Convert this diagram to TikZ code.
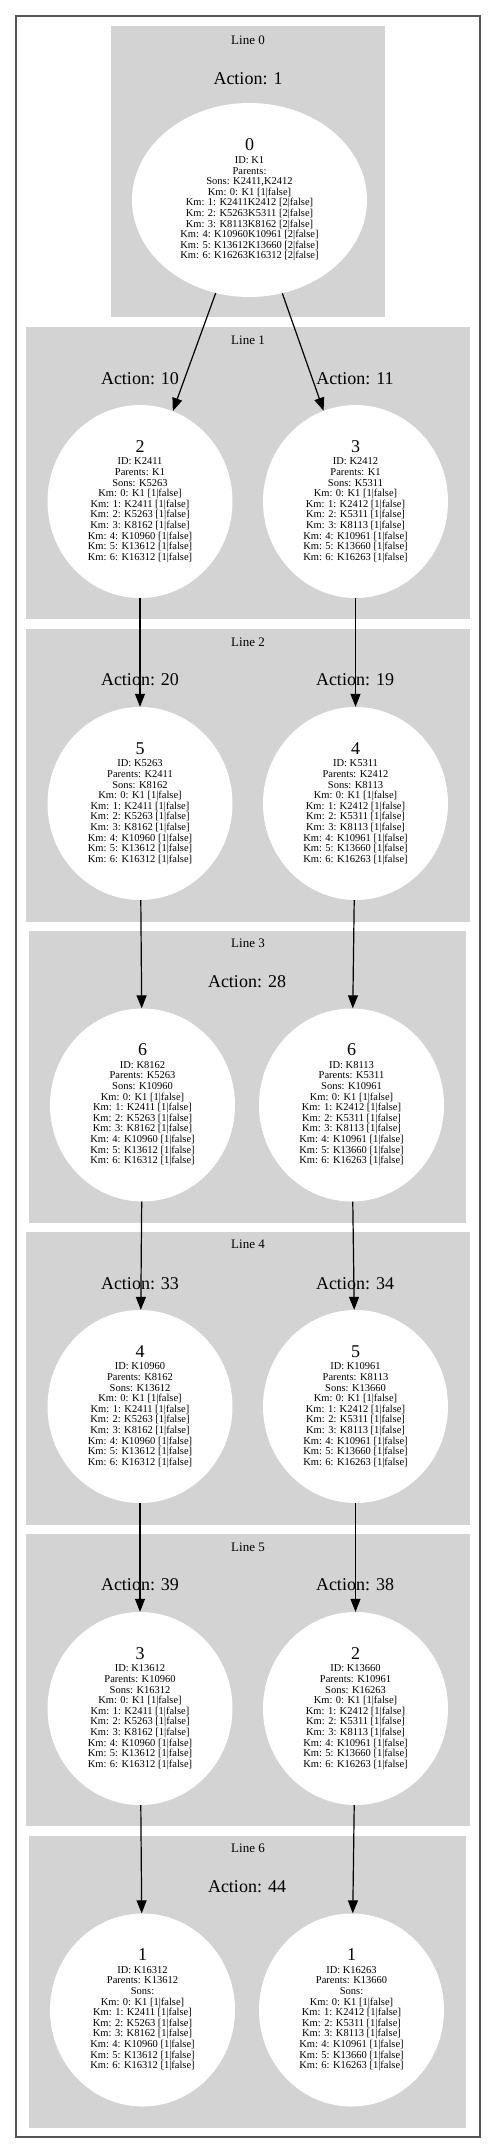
\documentclass[tikz,border=0pt]{standalone}
\usepackage{fontspec}
\setmainfont{Liberation Serif}
\usetikzlibrary{shapes.geometric,arrows.meta}
\definecolor{clgray}{HTML}{D3D3D3}
\definecolor{framegray}{HTML}{555555}
\newcommand\stxt[2]{{\fontsize{18}{18}\selectfont #1}\\[1.9pt]#2}
\newcommand\kmL{Km: 0: K1 [1|false]\\Km: 1: K2411 [1|false]\\Km: 2: K5263 [1|false]\\Km: 3: K8162 [1|false]\\Km: 4: K10960 [1|false]\\Km: 5: K13612 [1|false]\\Km: 6: K16312 [1|false]}
\newcommand\kmR{Km: 0: K1 [1|false]\\Km: 1: K2412 [1|false]\\Km: 2: K5311 [1|false]\\Km: 3: K8113 [1|false]\\Km: 4: K10961 [1|false]\\Km: 5: K13660 [1|false]\\Km: 6: K16263 [1|false]}
\begin{document}
\begin{tikzpicture}[x=1pt,y=-1pt,
  cluster/.style={fill=clgray,draw=none},
  clabel/.style={font=\fontsize{13}{13}\selectfont,inner sep=0},
  alabel/.style={font=\fontsize{18}{18}\selectfont,inner sep=0},
  state/.style={ellipse,fill=white,draw=none,inner sep=0,align=center,
    font=\fontsize{10.5}{10.6}\selectfont,minimum width=185pt,minimum height=193pt},
  edge/.style={-{Triangle[length=13pt,width=10pt]},line width=1.2pt,black}]
\useasboundingbox (0,0) rectangle (496,2154);
\draw[framegray,line width=1.6pt] (15.8,15.8) rectangle (480,2137);
% clusters
\fill[cluster] (111,26) rectangle (385,317);
\fill[cluster] (26,327) rectangle (470,619);
\fill[cluster] (26,629) rectangle (470,922);
\fill[cluster] (29,931) rectangle (466,1223);
\fill[cluster] (26,1232) rectangle (470,1525);
\fill[cluster] (26,1534) rectangle (470,1826);
\fill[cluster] (29,1836) rectangle (466,2128);
% cluster labels
\node[clabel] (t0) at (248,40) {Line 0};
\node[clabel] (t1) at (248,340) {Line 1};
\node[clabel] (t2) at (248,642) {Line 2};
\node[clabel] (t3) at (248,943) {Line 3};
\node[clabel] (t4) at (248,1244) {Line 4};
\node[clabel] (t5) at (248,1547) {Line 5};
\node[clabel] (t6) at (248,1848) {Line 6};
% action labels
\node[alabel] (a0) at (248,79) {Action: 1};
\node[alabel] (a1l) at (140,379) {Action: 10};
\node[alabel] (a1r) at (355,379) {Action: 11};
\node[alabel] (a2l) at (140,680) {Action: 20};
\node[alabel] (a2r) at (355,680) {Action: 19};
\node[alabel] (a3) at (247,982) {Action: 28};
\node[alabel] (a4l) at (140,1284) {Action: 33};
\node[alabel] (a4r) at (355,1284) {Action: 34};
\node[alabel] (a5l) at (140,1585) {Action: 39};
\node[alabel] (a5r) at (355,1585) {Action: 38};
\node[alabel] (a6) at (247,1887) {Action: 44};
% states
\node[state,minimum width=235pt,minimum height=194pt] (n0) at (249.5,200) {\stxt{0}{ID: K1\\Parents:\\Sons: K2411,K2412\\Km: 0: K1 [1|false]\\Km: 1: K2411K2412 [2|false]\\Km: 2: K5263K5311 [2|false]\\Km: 3: K8113K8162 [2|false]\\Km: 4: K10960K10961 [2|false]\\Km: 5: K13612K13660 [2|false]\\Km: 6: K16263K16312 [2|false]}};
\node[state] (l1) at (140,501.5) {\stxt{2}{ID: K2411\\Parents: K1\\Sons: K5263\\\kmL}};
\node[state] (r1) at (355.5,501.5) {\stxt{3}{ID: K2412\\Parents: K1\\Sons: K5311\\\kmR}};
\node[state] (l2) at (140,803.5) {\stxt{5}{ID: K5263\\Parents: K2411\\Sons: K8162\\\kmL}};
\node[state] (r2) at (355.5,803.5) {\stxt{4}{ID: K5311\\Parents: K2412\\Sons: K8113\\\kmR}};
\node[state] (l3) at (142.5,1105) {\stxt{6}{ID: K8162\\Parents: K5263\\Sons: K10960\\\kmL}};
\node[state] (r3) at (351.5,1105) {\stxt{6}{ID: K8113\\Parents: K5311\\Sons: K10961\\\kmR}};
\node[state] (l4) at (140,1406.5) {\stxt{4}{ID: K10960\\Parents: K8162\\Sons: K13612\\\kmL}};
\node[state] (r4) at (355.5,1406.5) {\stxt{5}{ID: K10961\\Parents: K8113\\Sons: K13660\\\kmR}};
\node[state] (l5) at (140,1708.5) {\stxt{3}{ID: K13612\\Parents: K10960\\Sons: K16312\\\kmL}};
\node[state] (r5) at (355.5,1708.5) {\stxt{2}{ID: K13660\\Parents: K10961\\Sons: K16263\\\kmR}};
\node[state] (l6) at (142.5,2010) {\stxt{1}{ID: K16312\\Parents: K13612\\Sons:\\\kmL}};
\node[state] (r6) at (351.5,2010) {\stxt{1}{ID: K16263\\Parents: K13660\\Sons:\\\kmR}};
% edges
\draw[edge] (n0) -- (l1);
\draw[edge] (n0) -- (r1);
\draw[edge] (l1) -- (l2);
\draw[edge] (r1) -- (r2);
\draw[edge] (l2) -- (l3);
\draw[edge] (r2) -- (r3);
\draw[edge] (l3) -- (l4);
\draw[edge] (r3) -- (r4);
\draw[edge] (l4) -- (l5);
\draw[edge] (r4) -- (r5);
\draw[edge] (l5) -- (l6);
\draw[edge] (r5) -- (r6);
\end{tikzpicture}
\end{document}
